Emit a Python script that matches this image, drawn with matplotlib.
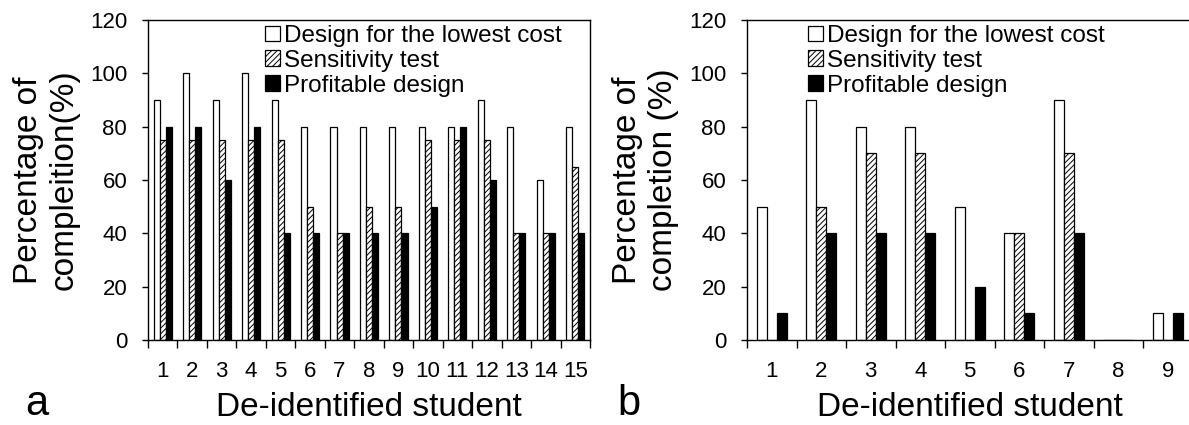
import numpy as np
import matplotlib
matplotlib.use("Agg")
import matplotlib.pyplot as plt

plt.rcParams['font.family'] = ['Liberation Sans', 'DejaVu Sans']
plt.rcParams['hatch.linewidth'] = 0.7

# --- data ---
students_a = [str(i) for i in range(1, 16)]
lowest_a = [90, 100, 90, 100, 90, 80, 80, 80, 80, 80, 80, 90, 80, 60, 80]
sens_a = [75, 75, 75, 75, 75, 50, 40, 50, 50, 75, 75, 75, 40, 40, 65]
profit_a = [80, 80, 60, 80, 40, 40, 40, 40, 40, 50, 80, 60, 40, 40, 40]

students_b = [str(i) for i in range(1, 10)]
lowest_b = [50, 90, 80, 80, 50, 40, 90, 0, 10]
sens_b = [0, 50, 70, 70, 0, 40, 70, 0, 0]
profit_b = [10, 40, 40, 40, 20, 10, 40, 0, 10]

series_names = ["Design for the lowest cost", "Sensitivity test", "Profitable design"]
yticks = [0, 20, 40, 60, 80, 100, 120]

W, H = 1189, 425
fig = plt.figure(figsize=(W / 100, H / 100), dpi=100)


def panel(rect, labels, lowest, sens, profit, ylabel, legend_x):
    ax = fig.add_axes(rect)
    x = np.arange(len(labels))
    w = 0.205
    ax.bar(x - w, lowest, w, color='white', edgecolor='black', linewidth=0.9,
           label=series_names[0])
    ax.bar(x, sens, w, color='white', edgecolor='black', linewidth=0.9,
           hatch='//////', label=series_names[1])
    ax.bar(x + w, profit, w, color='black', edgecolor='black', linewidth=0.9,
           label=series_names[2])

    ax.set_xlim(-0.5, len(labels) - 0.5)
    ax.set_ylim(0, 120)
    ax.set_yticks(yticks)
    ax.tick_params(axis='y', direction='out', length=4, width=1, pad=11,
                   labelsize=16)

    # ticks between the groups, labels centred under each group
    ax.set_xticks(np.arange(len(labels) + 1) - 0.5)
    ax.set_xticklabels([])
    ax.set_xticks(x, minor=True)
    ax.set_xticklabels(labels, minor=True)
    ax.tick_params(axis='x', which='major', direction='out', length=6, width=1)
    ax.tick_params(axis='x', which='minor', length=0, pad=15, labelsize=16)

    for s in ax.spines.values():
        s.set_linewidth(1.0)

    ax.set_ylabel(ylabel, fontsize=24, va='center', linespacing=1.2)
    ax.yaxis.set_label_coords(-101.5 / (rect[2] * W), 0.5)
    ax.set_xlabel("De-identified student", fontsize=24)
    ax.xaxis.set_label_coords(0.5, -52 / (rect[3] * H))

    ax.legend(loc='upper left', bbox_to_anchor=(legend_x / W, 1 - 25 / H),
              bbox_transform=fig.transFigure, frameon=False, fontsize=17.5,
              borderpad=0, borderaxespad=0, handlelength=0.62,
              handleheight=0.62, handletextpad=0.15, labelspacing=0.12)
    return ax


axes_h = 320 / H
axes_y = (H - 340) / H
panel([148 / W, axes_y, 442 / W, axes_h], students_a, lowest_a, sens_a, profit_a,
      "Percentage of\ncompleition(%)", 265)
panel([747 / W, axes_y, 445.5 / W, axes_h], students_b, lowest_b, sens_b, profit_b,
      "Percentage of\ncompletion (%)", 808)

fig.text(25 / W, 10 / H, "a", fontsize=30, ha='left', va='baseline')
fig.text(617 / W, 10 / H, "b", fontsize=30, ha='left', va='baseline')

fig.savefig("out.png", dpi=100)
